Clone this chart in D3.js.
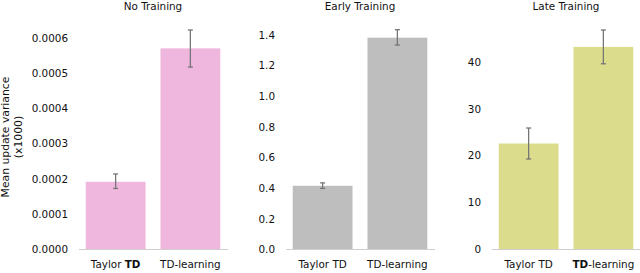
<!DOCTYPE html>
<html>
<head>
<meta charset="utf-8">
<script src="https://cdn.jsdelivr.net/npm/d3@7"></script>
<style>
  body { margin: 0; background: #fff; }
  text { font-family: "DejaVu Sans", sans-serif; fill: #111; }
</style>
</head>
<body>
<div id="chart"></div>
<script>
// data
var methods = ["Taylor TD", "TD-learning"];
var panelTitles = ["No Training", "Early Training", "Late Training"];

var noTrainingMean = [0.000192, 0.000570];
var noTrainingLow  = [0.000173, 0.000517];
var noTrainingHigh = [0.000214, 0.000622];

var earlyMean = [0.416, 1.383];
var earlyLow  = [0.399, 1.335];
var earlyHigh = [0.435, 1.435];

var lateMean = [22.6, 43.2];
var lateLow  = [19.3, 39.6];
var lateHigh = [25.9, 46.8];

var noTrainingTicks = [0, 0.0001, 0.0002, 0.0003, 0.0004, 0.0005, 0.0006];
var earlyTicks = [0, 0.2, 0.4, 0.6, 0.8, 1.0, 1.2, 1.4];
var lateTicks = [0, 10, 20, 30, 40];

var yMax = [0.000622, 1.433, 46.8];
var tickFormats = [d3.format(".4f"), d3.format(".1f"), d3.format("d")];
var barColors = ["#efb7de", "#bebebe", "#dcdc8d"];

var panels = [
    { title: panelTitles[0], mean: noTrainingMean, low: noTrainingLow, high: noTrainingHigh, ticks: noTrainingTicks },
    { title: panelTitles[1], mean: earlyMean, low: earlyLow, high: earlyHigh, ticks: earlyTicks },
    { title: panelTitles[2], mean: lateMean, low: lateLow, high: lateHigh, ticks: lateTicks }
];

var W = 640, H = 273;
var panelLeft = [79, 286, 492];
var panelW = 148;
var plotTop = 30, plotBottom = 249.5;

var svg = d3.select("#chart").append("svg")
    .attr("width", W)
    .attr("height", H);

// y axis title
var yTitle = svg.append("text")
    .attr("transform", "translate(9,137) rotate(-90)")
    .attr("text-anchor", "middle")
    .style("font-size", "10.8px");
yTitle.append("tspan").attr("x", 0).attr("y", 0).text("Mean update variance");
yTitle.append("tspan").attr("x", 0).attr("y", 13).text("(x1000)");

panels.forEach(function(p, i) {
    var g = svg.append("g")
        .attr("transform", "translate(" + panelLeft[i] + ",0)");

    var x = d3.scaleBand()
        .domain(methods)
        .range([0, panelW])
        .paddingInner(0.2)
        .paddingOuter(0.09);

    var y = d3.scaleLinear()
        .domain([0, yMax[i]])
        .range([plotBottom, plotTop]);

    // title
    g.append("text")
        .attr("x", panelW / 2)
        .attr("y", 9.5)
        .attr("text-anchor", "middle")
        .style("font-size", "10.4px")
        .text(p.title);

    // tick labels (no axis line, no tick marks)
    g.selectAll(".ytick")
        .data(p.ticks)
        .enter().append("text")
        .attr("class", "ytick")
        .attr("x", -11)
        .attr("y", function(d) { return y(d); })
        .attr("dy", "0.36em")
        .attr("text-anchor", "end")
        .style("font-size", "10.4px")
        .text(function(d) { return tickFormats[i](d); });

    // bars
    g.selectAll(".bar")
        .data(methods)
        .enter().append("rect")
        .attr("class", "bar")
        .attr("x", function(d) { return x(d); })
        .attr("width", x.bandwidth())
        .attr("y", function(d, j) { return y(p.mean[j]); })
        .attr("height", function(d, j) { return plotBottom - y(p.mean[j]); })
        .style("fill", barColors[i]);

    // baseline
    g.append("line")
        .attr("x1", 0).attr("x2", panelW + 1)
        .attr("y1", plotBottom).attr("y2", plotBottom)
        .style("stroke", "#cfcfcf")
        .style("stroke-width", 1);

    // error bars
    var eb = g.selectAll(".err")
        .data(methods)
        .enter().append("g")
        .attr("class", "err")
        .attr("transform", function(d) { return "translate(" + (x(d) + x.bandwidth() / 2) + ",0)"; })
        .style("stroke", "#757575")
        .style("stroke-width", 1.3);
    eb.append("line")
        .attr("y1", function(d, j) { return y(p.low[j]); })
        .attr("y2", function(d, j) { return y(p.high[j]); });
    eb.append("line")
        .attr("x1", -2.5).attr("x2", 2.5)
        .attr("y1", function(d, j) { return y(p.low[j]); })
        .attr("y2", function(d, j) { return y(p.low[j]); });
    eb.append("line")
        .attr("x1", -2.5).attr("x2", 2.5)
        .attr("y1", function(d, j) { return y(p.high[j]); })
        .attr("y2", function(d, j) { return y(p.high[j]); });

    // category labels, with the bold "TD" seen in the reference
    var lab = g.selectAll(".xlab")
        .data(methods)
        .enter().append("text")
        .attr("class", "xlab")
        .attr("x", function(d) { return x(d) + x.bandwidth() / 2; })
        .attr("y", 268)
        .attr("text-anchor", "middle")
        .style("font-size", "10.4px");
    lab.each(function(d, j) {
        var t = d3.select(this);
        var boldFirst = (i === 0 && j === 0);
        var boldSecond = (i === 2 && j === 1);
        if (boldFirst) {
            t.append("tspan").text("Taylor ");
            t.append("tspan").style("font-weight", "bold").text("TD");
        } else if (boldSecond) {
            t.append("tspan").style("font-weight", "bold").text("TD");
            t.append("tspan").text("-learning");
        } else {
            t.text(d);
        }
    });
});
</script>
</body>
</html>
